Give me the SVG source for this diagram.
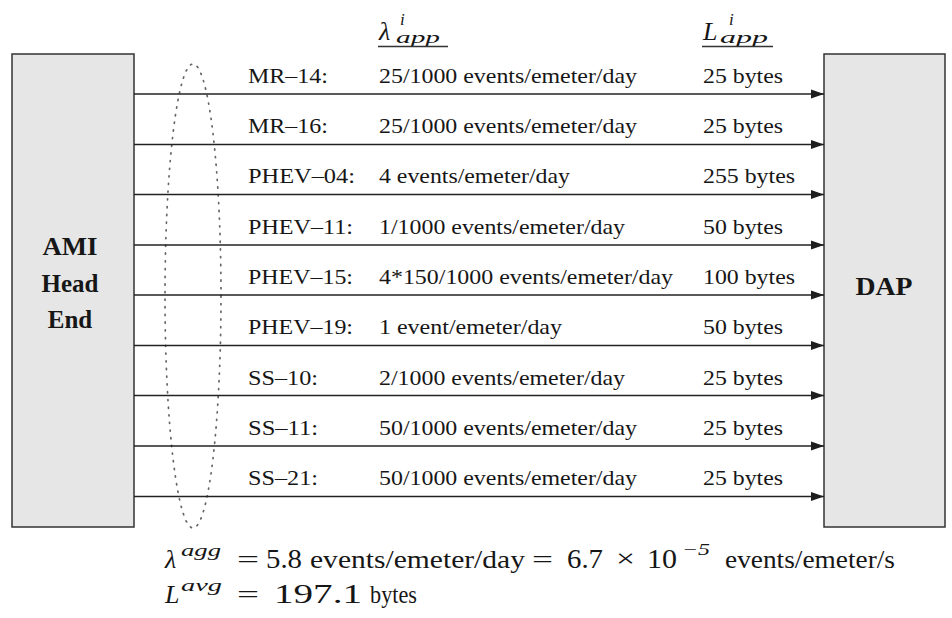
<svg xmlns="http://www.w3.org/2000/svg" width="952" height="618" viewBox="0 0 952 618">
<style>
text{font-family:"Liberation Serif","Times New Roman",serif;fill:#161616}
.t{font-size:22px}
.b{font-size:25px;font-weight:bold;text-anchor:middle}
.m{font-size:26px}
.d{font-size:27px}
.mi{font-style:italic}
.s{font-size:17px;font-style:italic}
.box{fill:#e6e6e6;stroke:#333;stroke-width:1.5}
.ln{stroke:#222;stroke-width:1.6;fill:none}
.ul{stroke:#333;stroke-width:1.3}
</style>
<defs>
<marker id="ah" markerUnits="userSpaceOnUse" markerWidth="13" markerHeight="10" refX="13" refY="5" orient="auto">
<path d="M0,0.5 L13,5 L0,9.5 z" fill="#1e1e1e"/>
</marker>
</defs>
<rect width="952" height="618" fill="#fff"/>
<g id="ami">
<rect class="box" x="12" y="54" width="122" height="473"/>
<text class="b" x="70" y="255" textLength="55" lengthAdjust="spacingAndGlyphs">AMI</text>
<text class="b" x="70" y="292">Head</text>
<text class="b" x="70" y="328">End</text>
</g>
<g id="dap">
<rect class="box" x="824" y="54" width="121" height="473"/>
<text class="b" x="884" y="295" textLength="57" lengthAdjust="spacingAndGlyphs">DAP</text>
</g>
<g id="group-ellipse">
<ellipse cx="193" cy="296" rx="28" ry="232" fill="none" stroke="#666" stroke-width="1.7" stroke-dasharray="1.2 6.5" stroke-linecap="round"/>
</g>
<g id="connectors">
<line class="ln" x1="134" y1="94" x2="824" y2="94" marker-end="url(#ah)"/>
<line class="ln" x1="134" y1="144.5" x2="824" y2="144.5" marker-end="url(#ah)"/>
<line class="ln" x1="134" y1="194.5" x2="824" y2="194.5" marker-end="url(#ah)"/>
<line class="ln" x1="134" y1="245" x2="824" y2="245" marker-end="url(#ah)"/>
<line class="ln" x1="134" y1="295" x2="824" y2="295" marker-end="url(#ah)"/>
<line class="ln" x1="134" y1="345.5" x2="824" y2="345.5" marker-end="url(#ah)"/>
<line class="ln" x1="134" y1="395.5" x2="824" y2="395.5" marker-end="url(#ah)"/>
<line class="ln" x1="134" y1="446" x2="824" y2="446" marker-end="url(#ah)"/>
<line class="ln" x1="134" y1="496.5" x2="824" y2="496.5" marker-end="url(#ah)"/>
</g>
<g id="headers">
<text class="m mi" x="379" y="40" font-size="25">λ</text>
<text class="s" x="400" y="25" font-size="15">i</text>
<text class="s" x="396" y="43" textLength="44" lengthAdjust="spacingAndGlyphs">app</text>
<line class="ul" x1="378" y1="46.5" x2="448" y2="46.5"/>
<text class="m mi" x="703" y="40" font-size="25">L</text>
<text class="s" x="729" y="25" font-size="15">i</text>
<text class="s" x="720" y="43" textLength="48" lengthAdjust="spacingAndGlyphs">app</text>
<line class="ul" x1="702" y1="46.5" x2="773" y2="46.5"/>
</g>
<g id="labels">
<text class="t" x="248" y="83" textLength="80" lengthAdjust="spacingAndGlyphs">MR–14:</text>
<text class="t" x="379" y="83" textLength="258" lengthAdjust="spacingAndGlyphs">25/1000 events/emeter/day</text>
<text class="t" x="703" y="83" textLength="80" lengthAdjust="spacingAndGlyphs">25 bytes</text>

<text class="t" x="248" y="133" textLength="80" lengthAdjust="spacingAndGlyphs">MR–16:</text>
<text class="t" x="379" y="133" textLength="258" lengthAdjust="spacingAndGlyphs">25/1000 events/emeter/day</text>
<text class="t" x="703" y="133" textLength="80" lengthAdjust="spacingAndGlyphs">25 bytes</text>

<text class="t" x="248" y="183" textLength="107" lengthAdjust="spacingAndGlyphs">PHEV–04:</text>
<text class="t" x="379" y="183" textLength="191" lengthAdjust="spacingAndGlyphs">4 events/emeter/day</text>
<text class="t" x="703" y="183" textLength="92" lengthAdjust="spacingAndGlyphs">255 bytes</text>

<text class="t" x="248" y="234" textLength="105" lengthAdjust="spacingAndGlyphs">PHEV–11:</text>
<text class="t" x="379" y="234" textLength="246" lengthAdjust="spacingAndGlyphs">1/1000 events/emeter/day</text>
<text class="t" x="703" y="234" textLength="80" lengthAdjust="spacingAndGlyphs">50 bytes</text>

<text class="t" x="248" y="284" textLength="105" lengthAdjust="spacingAndGlyphs">PHEV–15:</text>
<text class="t" x="379" y="284" textLength="294" lengthAdjust="spacingAndGlyphs">4*150/1000 events/emeter/day</text>
<text class="t" x="703" y="284" textLength="92" lengthAdjust="spacingAndGlyphs">100 bytes</text>

<text class="t" x="248" y="334" textLength="105" lengthAdjust="spacingAndGlyphs">PHEV–19:</text>
<text class="t" x="379" y="334" textLength="183" lengthAdjust="spacingAndGlyphs">1 event/emeter/day</text>
<text class="t" x="703" y="334" textLength="80" lengthAdjust="spacingAndGlyphs">50 bytes</text>

<text class="t" x="248" y="385" textLength="70" lengthAdjust="spacingAndGlyphs">SS–10:</text>
<text class="t" x="379" y="385" textLength="246" lengthAdjust="spacingAndGlyphs">2/1000 events/emeter/day</text>
<text class="t" x="703" y="385" textLength="80" lengthAdjust="spacingAndGlyphs">25 bytes</text>

<text class="t" x="248" y="435" textLength="70" lengthAdjust="spacingAndGlyphs">SS–11:</text>
<text class="t" x="379" y="435" textLength="258" lengthAdjust="spacingAndGlyphs">50/1000 events/emeter/day</text>
<text class="t" x="703" y="435" textLength="80" lengthAdjust="spacingAndGlyphs">25 bytes</text>

<text class="t" x="248" y="485" textLength="70" lengthAdjust="spacingAndGlyphs">SS–21:</text>
<text class="t" x="379" y="485" textLength="258" lengthAdjust="spacingAndGlyphs">50/1000 events/emeter/day</text>
<text class="t" x="703" y="485" textLength="80" lengthAdjust="spacingAndGlyphs">25 bytes</text>
</g>
<g id="formulas">
<text class="m mi" x="165" y="568" font-size="27">λ</text>
<text class="s" x="181" y="556" textLength="40" lengthAdjust="spacingAndGlyphs">agg</text>
<text class="m" x="237" y="568" textLength="22" lengthAdjust="spacingAndGlyphs">=</text>
<text class="d" x="266" y="568" textLength="36" lengthAdjust="spacingAndGlyphs">5.8</text>
<text class="m" x="310" y="568" textLength="215" lengthAdjust="spacingAndGlyphs">events/emeter/day</text>
<text class="m" x="532" y="568" textLength="21" lengthAdjust="spacingAndGlyphs">=</text>
<text class="d" x="567" y="568" textLength="36" lengthAdjust="spacingAndGlyphs">6.7</text>
<text class="m" x="616" y="567" textLength="19" lengthAdjust="spacingAndGlyphs">×</text>
<text class="d" x="647" y="568" textLength="30" lengthAdjust="spacingAndGlyphs">10</text>
<text class="s" x="682" y="555" font-style="normal" textLength="28" lengthAdjust="spacingAndGlyphs">−5</text>
<text class="m" x="725" y="568" textLength="170" lengthAdjust="spacingAndGlyphs">events/emeter/s</text>

<text class="m mi" x="165" y="603" font-size="27">L</text>
<text class="s" x="181" y="591" textLength="41" lengthAdjust="spacingAndGlyphs">avg</text>
<text class="m" x="237" y="603" textLength="22" lengthAdjust="spacingAndGlyphs">=</text>
<text class="d" x="274" y="603" textLength="88" lengthAdjust="spacingAndGlyphs">197.1</text>
<text class="m" x="370" y="603" textLength="47" lengthAdjust="spacingAndGlyphs">bytes</text>
</g>
</svg>
